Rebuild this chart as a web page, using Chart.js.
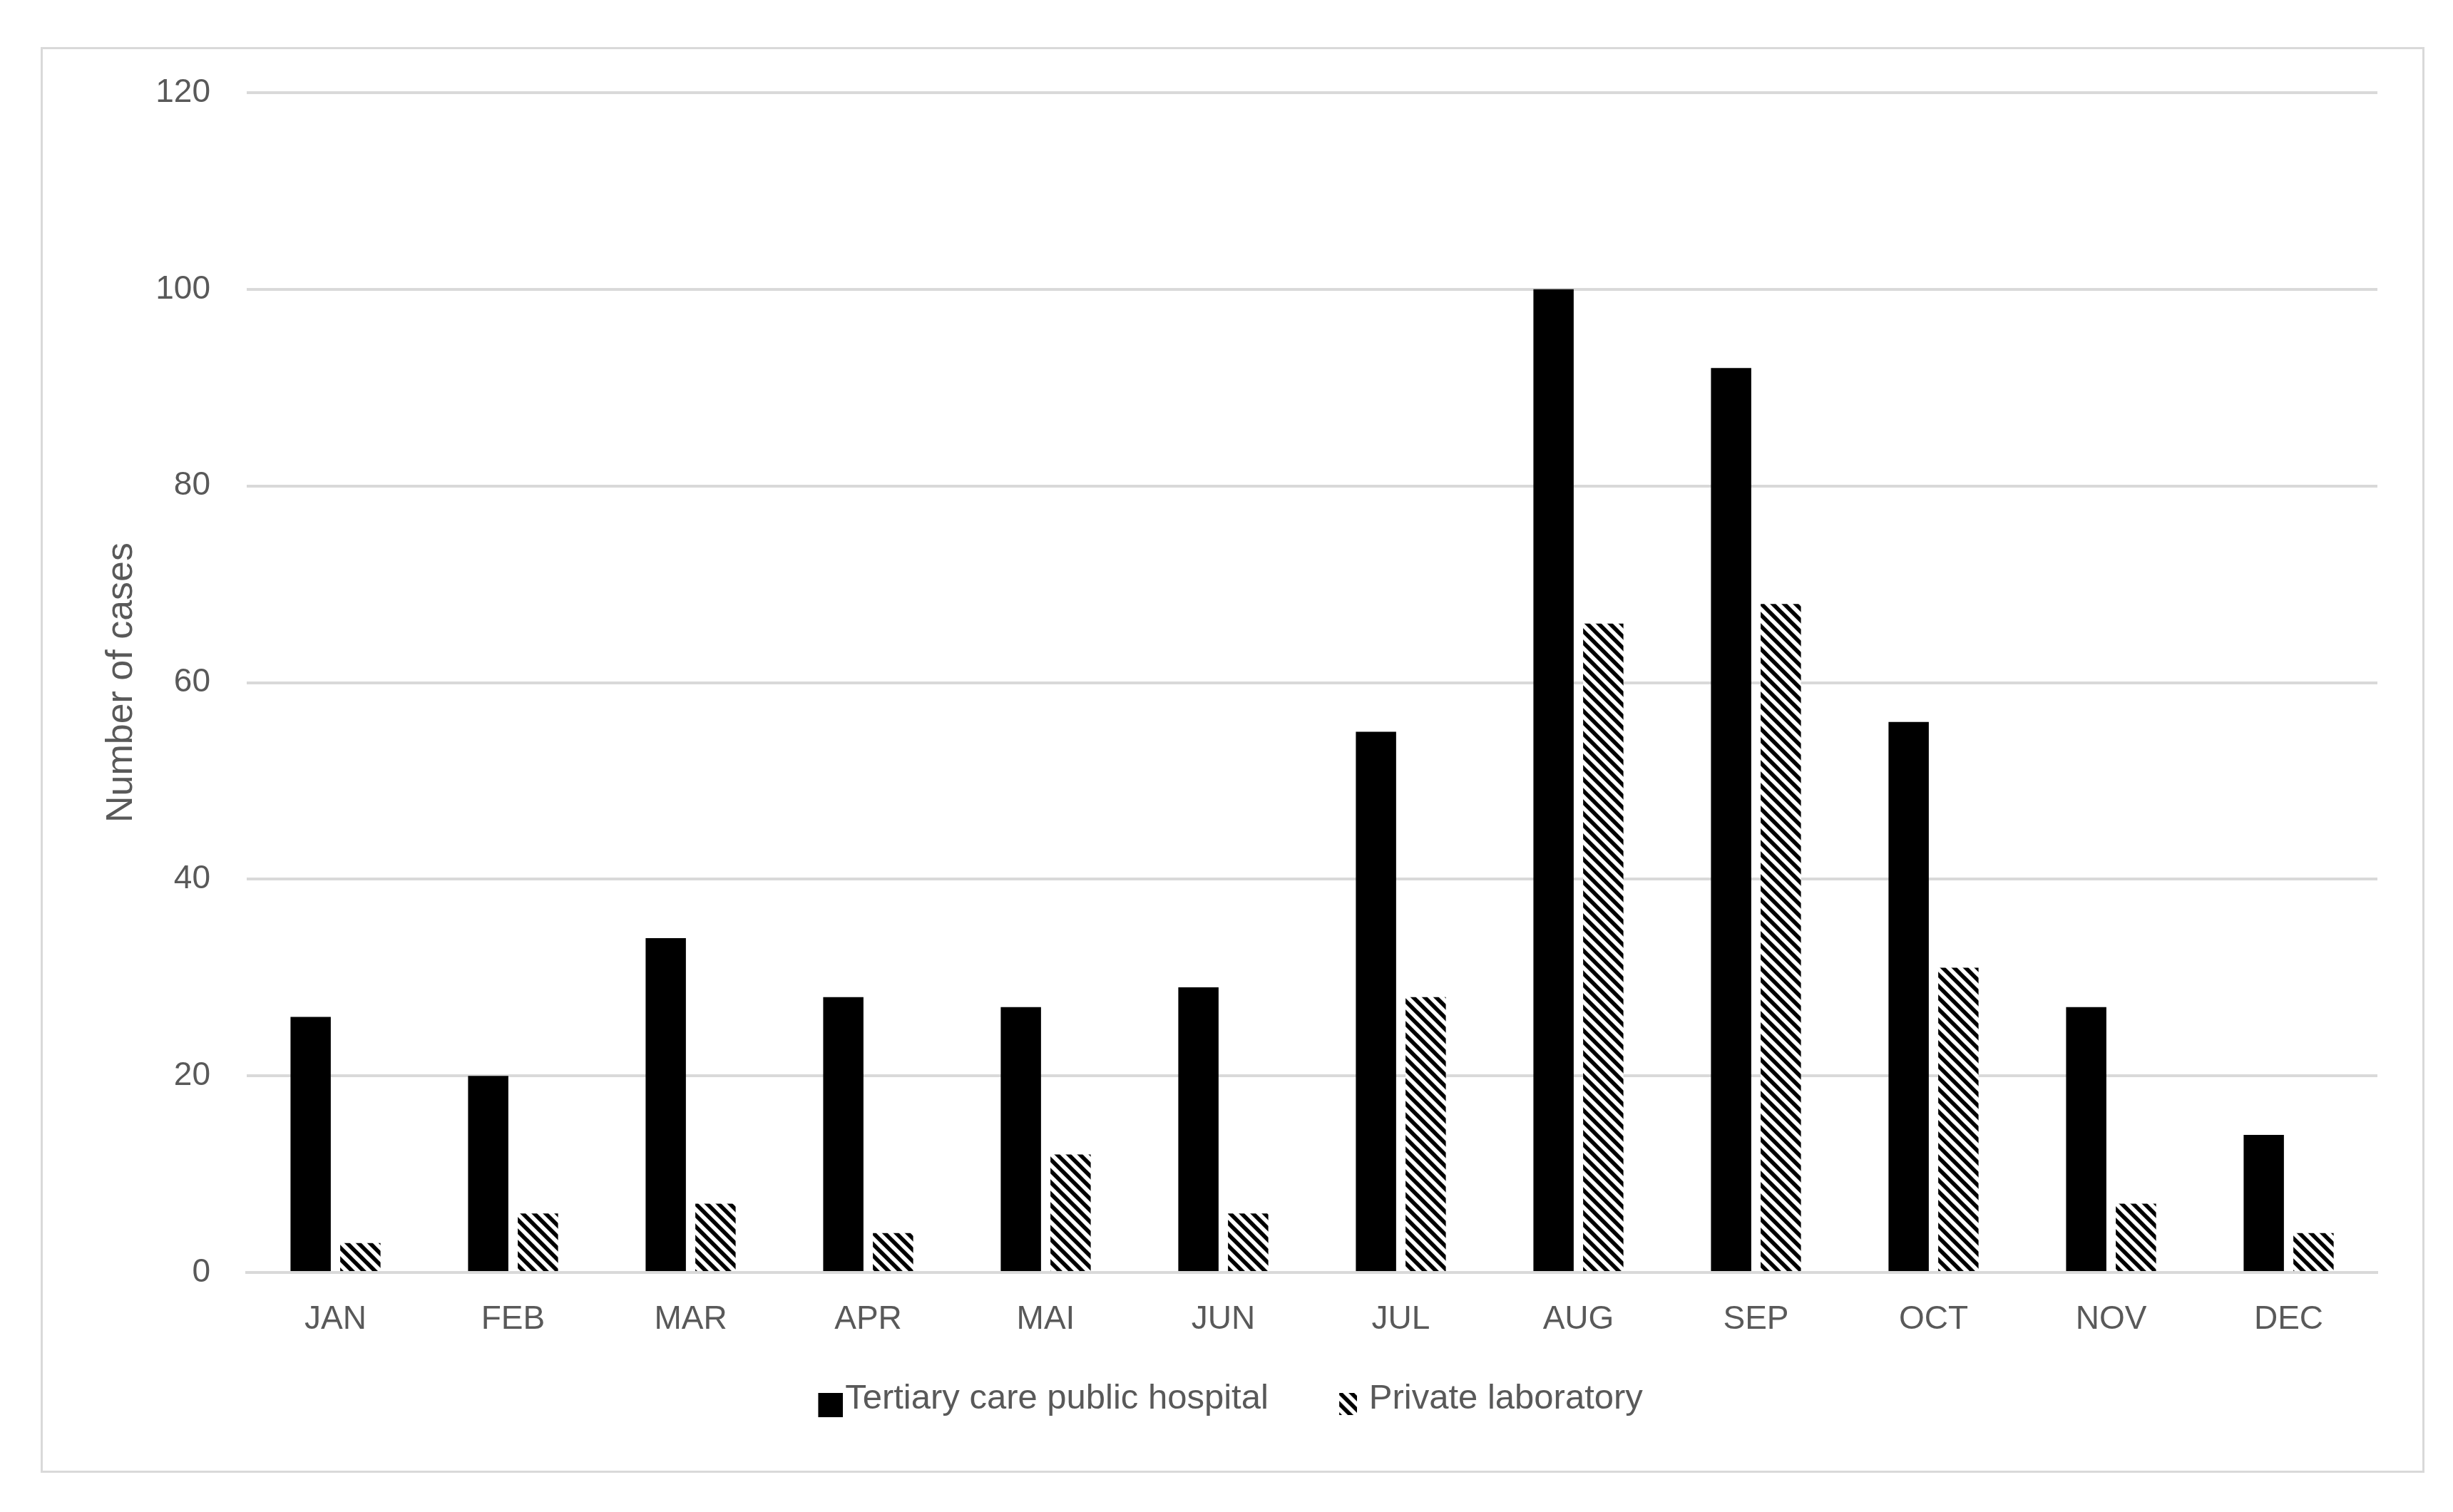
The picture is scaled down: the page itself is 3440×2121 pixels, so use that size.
<!DOCTYPE html>
<html>
<head>
<meta charset="utf-8">
<script src="https://cdn.jsdelivr.net/npm/chart.js@4"></script>
<style>
    body { margin: 0; background: #fff; }
    #frame {
        position: absolute;
        left: 57px;
        top: 66px;
        border: 3px solid #d9d9d9;
        width: 3337px;
        height: 1994px;
    }
    canvas { display: block; }
</style>
</head>
<body>
<div id="frame"><canvas id="chart-cases" width="3337" height="1994"></canvas></div>
<script>
const months = ['JAN', 'FEB', 'MAR', 'APR', 'MAI', 'JUN', 'JUL', 'AUG', 'SEP', 'OCT', 'NOV', 'DEC'];
const publicHospitalCases = [26, 20, 34, 28, 27, 29, 55, 100, 92, 56, 27, 14];
const privateLabCases = [3, 6, 7, 4, 12, 6, 28, 66, 68, 31, 7, 4];
const seriesNames = ['Tertiary care public hospital', 'Private laboratory'];
const yMin = 0;
const yMax = 120;
const yStep = 20;

const textColor = '#595959';
const gridColor = '#d9d9d9';
const fontFamily = "'Liberation Sans', Arial, sans-serif";

function makeHatch() {
    /*
     * Black "\" stripes on white, like the Excel wide downward diagonal
     */
    const tile = document.createElement('canvas');
    tile.width = 16;
    tile.height = 16;
    const ctx = tile.getContext('2d');
    ctx.fillStyle = '#fff';
    ctx.fillRect(0, 0, 16, 16);
    ctx.strokeStyle = '#000';
    ctx.lineWidth = 5.6;
    for (let k = -16; k <= 16; k += 16) {
        ctx.beginPath();
        ctx.moveTo(k - 4, -4);
        ctx.lineTo(k + 20, 20);
        ctx.stroke();
    }
    return ctx.createPattern(tile, 'repeat');
}

const hatch = makeHatch();

// legend icons: the mark sits at the right end of a wider transparent canvas,
// so it ends up just left of its text
const legendBoxWidth = 70.5;
const legendFontSize = 49;

function makeLegendIcon(fill, w, h, gap, yOffset) {
    const canvasWidth = Math.round(legendBoxWidth + 2 * (legendFontSize / 2 - gap));
    const canvasHeight = h + 2 * yOffset;
    const icon = document.createElement('canvas');
    icon.width = canvasWidth;
    icon.height = canvasHeight;
    const ctx = icon.getContext('2d');
    ctx.fillStyle = fill;
    ctx.fillRect(canvasWidth - w, canvasHeight - h, w, h);
    return icon;
}

const legendIcons = [
    makeLegendIcon('#000', 35, 34, 3, 8.5),
    makeLegendIcon(hatch, 25, 31, 17, 7)
];

const ctx = document.getElementById('chart-cases');

new Chart(ctx, {
    type: 'bar',
    data: {
        labels: months,
        datasets: [{
            label: seriesNames[0],
            data: publicHospitalCases,
            backgroundColor: '#000',
            borderWidth: 0
        }, {
            label: seriesNames[1],
            data: privateLabCases,
            backgroundColor: hatch,
            borderWidth: 0
        }]
    },
    options: {
        responsive: false,
        animation: false,
        devicePixelRatio: 1,
        datasets: {
            bar: {
                categoryPercentage: 0.56,
                barPercentage: 0.81
            }
        },
        layout: {
            padding: { left: 0, right: 63, top: 61, bottom: 66 }
        },
        scales: {
            x: {
                grid: { display: false },
                border: { display: true, color: gridColor, width: 4 },
                ticks: {
                    color: textColor,
                    padding: 30.5,
                    font: { family: fontFamily, size: 46 }
                },
                afterFit: (scale) => { scale.height = 107; }
            },
            y: {
                min: yMin,
                max: yMax,
                grid: { color: gridColor, lineWidth: 4, drawTicks: false },
                border: { display: false },
                ticks: {
                    stepSize: yStep,
                    color: textColor,
                    padding: 51,
                    font: { family: fontFamily, size: 46 }
                },
                title: {
                    display: true,
                    text: 'Number of cases',
                    color: textColor,
                    padding: { top: 79, bottom: 0 },
                    font: { family: fontFamily, size: 52 }
                },
                afterFit: (scale) => {
                    scale.width = 286;
                    // top/bottom room comes from layout padding instead
                    scale.paddingTop = 0;
                    scale.paddingBottom = 0;
                }
            }
        },
        plugins: {
            tooltip: { enabled: false },
            legend: {
                position: 'bottom',
                labels: {
                    color: textColor,
                    usePointStyle: true,
                    pointStyleWidth: legendBoxWidth,
                    padding: 46,
                    font: { family: fontFamily, size: legendFontSize },
                    generateLabels: (chart) => {
                        const items = Chart.defaults.plugins.legend.labels.generateLabels(chart);
                        items.forEach((item, i) => { item.pointStyle = legendIcons[i]; });
                        return items;
                    }
                }
            }
        }
    }
});
</script>
</body>
</html>
